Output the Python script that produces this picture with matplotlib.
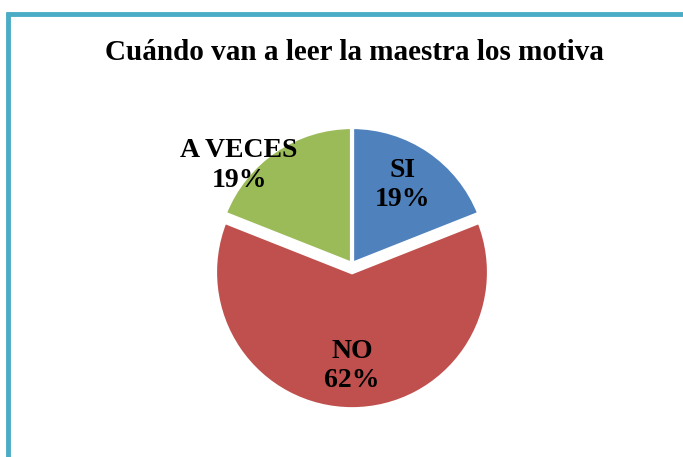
import matplotlib.pyplot as plt
import numpy as np
from matplotlib.lines import Line2D

# data
labels = ["SI", "NO", "A VECES"]
values = [19, 62, 19]
colors = ["#4F81BD", "#C0504D", "#9BBB59"]
explode = [0, 0.06, 0]
title = "Cuándo van a leer la maestra los motiva"

plt.rcParams['font.family'] = ['Liberation Serif', 'DejaVu Serif']

W, H = 683, 457
fig = plt.figure(figsize=(W / 100, H / 100), dpi=100)

# pie centre / radius in pixels
cx, cy, r = 352, 264, 137
ax = fig.add_axes([(cx - r) / W, (H - cy - r) / H, 2 * r / W, 2 * r / H])

wedges, _ = ax.pie(values, colors=colors, startangle=90, counterclock=False,
                   explode=explode, radius=1,
                   wedgeprops=dict(edgecolor="white", linewidth=3))
for w in wedges:
    w.set_clip_on(False)
ax.set_xlim(-1, 1)
ax.set_ylim(-1, 1)
ax.axis('off')

# label positions (radius, angle offset from wedge middle)
label_r = [0.686, 0.685, 1.095]
label_da = [1.4, 0, 14.6]
total = sum(values)
for w, lab, v, lr, da, ex in zip(wedges, labels, values, label_r, label_da, explode):
    ang = np.deg2rad((w.theta1 + w.theta2) / 2 + da)
    x = (lr + ex) * np.cos(ang)
    y = (lr + ex) * np.sin(ang)
    ax.text(x, y, "%s\n%d%%" % (lab, round(100 * v / total)), ha='center', va='center',
            fontsize=20, fontweight='bold', linespacing=1.25)

fig.text(354 / W, 1 - 52 / H, title, ha='center', va='center',
         fontsize=21, fontweight='bold')

# frame lines (top and left)
bc = "#4BACC6"
fig.add_artist(Line2D([6 / W, 1.01], [1 - 14 / H, 1 - 14 / H], color=bc, lw=3.5,
                      transform=fig.transFigure, solid_capstyle='butt'))
fig.add_artist(Line2D([8 / W, 8 / W], [1 - 12 / H, -0.01], color=bc, lw=3.5,
                      transform=fig.transFigure, solid_capstyle='butt'))

fig.savefig("out.png", dpi=100)
